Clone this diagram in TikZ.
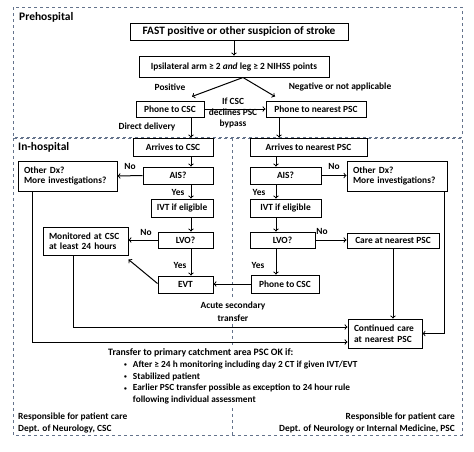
\documentclass[tikz,border=0pt]{standalone}
\usepackage{fontspec}
\setmainfont{Carlito}
\usepackage{tikz}

\definecolor{zoneline}{RGB}{100,115,140}

\newcommand{\rulebullet}{\raisebox{0.2ex}{\scalebox{0.6}{\textbullet}}\hspace{6pt}}

\tikzset{
  stepbox/.style={draw, line width=1pt, inner sep=1pt, align=center, font=\bfseries\fontsize{9.4}{10.5}\selectfont},
  notebox/.style={stepbox, align=left, inner xsep=6pt, text width=#1},
  lbl/.style={font=\bfseries\fontsize{9.4}{11}\selectfont, align=center, inner sep=0pt},
  zonelbl/.style={lbl, font=\bfseries\fontsize{11.5}{13}\selectfont},
  zone/.style={draw=zoneline, dashed, line width=0.7pt},
  flow/.style={->, line width=1pt},
}

\begin{document}
\begin{tikzpicture}[x=1pt, y=-1pt]
\useasboundingbox (0,0) rectangle (474,451);

% zones
\draw[zone] (13,7) rectangle (462,137);
\draw[zone] (13,138) rectangle (462,435);
\draw[zone] (232,138) -- (232,435);
\node[zonelbl, anchor=west] (prehosp) at (19,17) {Prehospital};
\node[zonelbl, anchor=west] (inhosp) at (18,147) {In-hospital};

% columns for the vertical arrows
\coordinate (colL) at (191,0);
\coordinate (colR) at (276,0);

% prehospital
\node[stepbox, minimum width=218pt, minimum height=17pt, font=\bfseries\fontsize{11.3}{12}\selectfont] (fast) at (239,31.5) {FAST positive or other suspicion of stroke};
\node[stepbox, minimum width=190pt, minimum height=21pt] (ipsi) at (234,66.5) {Ipsilateral arm ≥ 2 \textit{and} leg ≥ 2 NIHSS points};
\node[stepbox, minimum width=68pt, minimum height=16pt] (phcsc) at (170,109) {Phone to CSC};
\node[stepbox, minimum width=100pt, minimum height=16pt] (phpsc) at (316,109) {Phone to nearest PSC};

% in-hospital, CSC side
\node[stepbox, minimum width=80pt, minimum height=18pt] (arrcsc) at (173,147) {Arrives to CSC};
\node[stepbox, minimum width=70pt, minimum height=17pt] (aisl) at (178,175.5) {AIS?};
\node[notebox=87pt, minimum height=30pt] (dxl) at (67.5,176) {Other Dx?\\More investigations?};
\node[stepbox, minimum width=62pt, minimum height=18pt] (ivtl) at (182,208) {IVT if eligible};
\node[stepbox, minimum width=55pt, minimum height=16pt] (lvol) at (185.5,240) {LVO?};
\node[notebox=73pt, minimum height=28pt] (monl) at (85.5,241) {Monitored at CSC\\at least 24 hours};
\node[stepbox, minimum width=55pt, minimum height=17pt] (evt) at (185.5,284.5) {EVT};

% in-hospital, PSC side
\node[stepbox, minimum width=117pt, minimum height=18pt] (arrpsc) at (308.5,147) {Arrives to nearest PSC};
\node[stepbox, minimum width=71pt, minimum height=17pt] (aisr) at (285.5,175.5) {AIS?};
\node[notebox=88pt, minimum height=30pt] (dxr) at (397,176) {Other Dx?\\More investigations?};
\node[stepbox, minimum width=71pt, minimum height=18pt] (ivtr) at (285.5,208) {IVT if eligible};
\node[stepbox, minimum width=65pt, minimum height=16pt] (lvor) at (282.5,240) {LVO?};
\node[stepbox, minimum width=92pt, minimum height=15pt] (carer) at (393,240.5) {Care at nearest PSC};
\node[stepbox, minimum width=68pt, minimum height=18pt] (phcscr) at (285,284) {Phone to CSC};
\node[notebox=62pt, minimum height=29pt] (cont) at (385,333.5) {Continued care\\at nearest PSC};

% connectors
\draw[flow] (fast.south -| ipsi.north) -- (ipsi.north);
\draw[flow] ([xshift=9pt]ipsi.south) -- ([xshift=22pt, yshift=4pt]phcsc.north);
\draw[flow] ([xshift=9pt]ipsi.south) -- ([xshift=-41pt, yshift=4pt]phpsc.north);
\draw[flow] (phcsc.east) -- (phpsc.west);
\draw[flow] (phcsc.south -| colL) -- (arrcsc.north -| colL);
\draw[flow] ([xshift=3pt]phpsc.south -| colR) -- ([xshift=3pt]arrpsc.north -| colR);

\draw[flow] (arrcsc.south -| colL) -- (aisl.north -| colL);
\draw[flow] (aisl.west) -- (dxl.east);
\draw[flow] (aisl.south -| colL) -- (ivtl.north -| colL);
\draw[flow] (ivtl.south -| colL) -- (lvol.north -| colL);
\draw[flow] (lvol.west) -- (monl.east |- lvol.west);
\draw[flow] (lvol.south -| colL) -- (evt.north -| colL);
\draw[flow] ([yshift=1pt]evt.west) -- ([yshift=-4pt]monl.south east);

\draw[flow] (arrpsc.south -| colR) -- (aisr.north -| colR);
\draw[flow] (aisr.east) -- (dxr.west |- aisr.east);
\draw[flow] (aisr.south -| colR) -- (ivtr.north -| colR);
\draw[flow] (ivtr.south -| colR) -- (lvor.north -| colR);
\draw[flow] (lvor.east) -- (carer.west |- lvor.east);
\draw[flow] (lvor.south -| colR) -- (phcscr.north -| colR);
\draw[flow] (phcscr.west) -- (evt.east |- phcscr.west);

\draw[flow] (carer.south) -- (carer.south |- cont.north);
\draw[flow] ([xshift=-3pt]dxr.south east) |- (cont.east);
\draw[flow] ([xshift=-12pt]monl.south) |- ([yshift=6.5pt]cont.west);
\draw[flow] ([xshift=-35pt]dxl.south) |- ([yshift=-8.5pt]cont.west);

% labels
\node[lbl] (pos) at (170,87) {Positive};
\node[lbl] (neg) at (340,87) {Negative or not applicable};
\node[lbl] (declines) at (233,113) {If CSC\\declines PSC\\bypass};
\node[lbl] (direct) at (147,127) {Direct delivery};
\node[lbl] (noA) at (130,166) {No};
\node[lbl] (noB) at (334,166) {No};
\node[lbl] (noC) at (146,232) {No};
\node[lbl] (noD) at (322,231) {No};
\node[lbl] (yesA) at (178,192) {Yes};
\node[lbl] (yesB) at (259,192) {Yes};
\node[lbl] (yesC) at (180,265) {Yes};
\node[lbl] (yesD) at (258,265) {Yes};
\node[lbl, fill=white, inner sep=2pt, font=\bfseries\fontsize{9.4}{13}\selectfont] (acute) at (233,311.5) {Acute secondary\\transfer};

\node[lbl, anchor=west, fill=white, inner sep=3pt, font=\bfseries\fontsize{9.8}{11}\selectfont] (okif) at (105,353) {Transfer to primary catchment area PSC OK if:};
\node[lbl, anchor=north west, align=left, fill=white, inner sep=2pt, font=\bfseries\fontsize{9.3}{11.6}\selectfont] (rules) at (122,359)
  {\rulebullet After ≥ 24 h monitoring including day 2 CT if given IVT/EVT\\
   \rulebullet Stabilized patient\\
   \rulebullet Earlier PSC transfer possible as exception to 24 hour rule\\
   \hphantom{\rulebullet}following individual assessment};

\node[lbl, anchor=west, align=left, font=\bfseries\fontsize{9.4}{12}\selectfont] (respl) at (18,423) {Responsible for patient care\\Dept. of Neurology, CSC};
\node[lbl, anchor=east, align=right, font=\bfseries\fontsize{9.4}{12}\selectfont] (respr) at (455,423) {Responsible for patient care\\Dept. of Neurology or Internal Medicine, PSC};
\end{tikzpicture}
\end{document}
